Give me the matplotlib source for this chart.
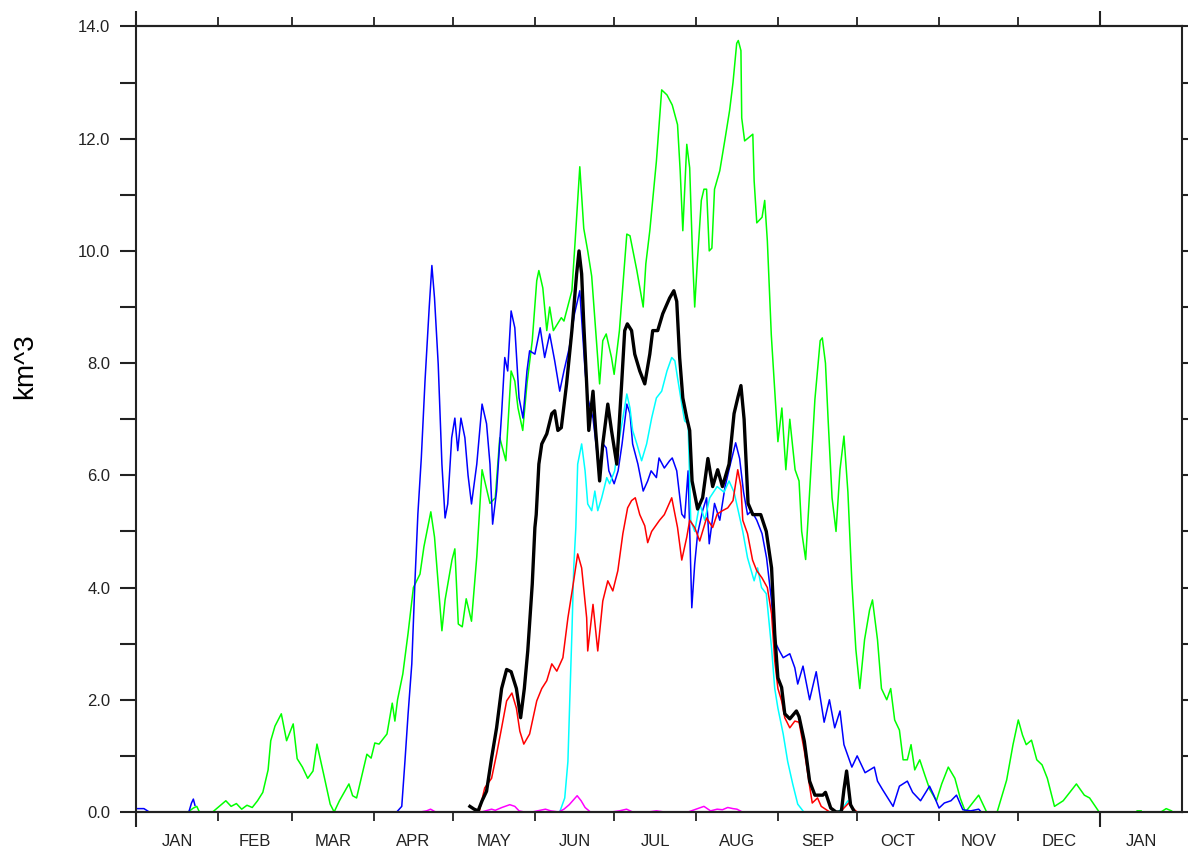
import numpy as np
import matplotlib
matplotlib.use("Agg")
import matplotlib.pyplot as plt

nan = np.nan

# day of year (0 = Jan 1) and volume in km^3
green_day = [19.7, 21.7, 23, 24, nan,
             29, 34, 36, 38, 40, 42, 44, 46, 48, 50, 51, 52.6, 55, 57, 59.5, 61, 63, 65, 67, 68.5,
             71, 73.5, 75, 77, 80.6, 82, 83.5, 85, 87.4, 89, 90.4, 92, 95, 97, 98, 99, 101, 103,
             105, 107.5, 109, 111.6, 113, 115.8, 117, 119.6, 120.7, 122, 123.5, 125, 127, 129, 131,
             134, 136, 137.7, 140, 142, 143.4, 144.6, 146.4, 148, 150, 151.7, 152.5, 154, 155.5,
             156.6, 158, 161, 162, 165, 166, 168, 169.5, 171, 172.5, 174, 175.5, 176.7, 178, 180,
             181, 183, 185.8, 187, 189.6, 192, 193, 194.5, 197, 199, 201, 203, 205, 206, 207,
             208.5, 209.6, 210.7, 211.5, 212.6, 214, 215, 216, 217, 218, 219, 221, 223, 224.7,
             226, 227.4, 228, 229, 229.3, 230.4, 233.5, 234, 235, 237, 238, 239, 240.5, 242, 243,
             244.5, 246, 247.5, 249.5, 251, 252, 253.5, 255, 257, 259, 259.8, 261, 262, 263.5,
             265, 266.5, 268, 269.5, 271, 272.5, 274, 275.8, 277.7, 278.8, 280.7, 282.2, 284.2,
             285.7, 287.2, 289, 290.4, 292, 293.4, 294.8, 296.7, 298.6, 300.5, 303, 305, 307.5,
             310, 312, 314, 319, 322, 326, 329.6, 332, 334, 335.6, 337, 339, 341, 343, 345,
             347.7, 351, 353.5, 356, 359, 361, 364.6, nan, 379, 380.5, nan, 388, 390, 392]
green_val = [0.0, 0.07, 0.1, 0.0, nan,
             0.0, 0.2, 0.1, 0.15, 0.05, 0.12, 0.08, 0.2, 0.35, 0.75, 1.27, 1.53, 1.75, 1.27, 1.57,
             0.95, 0.8, 0.6, 0.73, 1.21, 0.68, 0.14, 0.0, 0.2, 0.5, 0.29, 0.25, 0.55, 1.03, 0.96,
             1.23, 1.21, 1.39, 1.94, 1.62, 2.0, 2.46, 3.19, 4.0, 4.24, 4.73, 5.35, 4.9, 3.23, 3.78,
             4.49, 4.69, 3.35, 3.3, 3.8, 3.4, 4.55, 6.1, 5.5, 5.6, 6.67, 6.26, 7.86, 7.68, 7.2,
             6.8, 7.63, 8.4, 9.47, 9.65, 9.34, 8.58, 9.0, 8.58, 8.81, 8.75, 9.29, 10.0, 11.5,
             10.4, 10.0, 9.55, 8.58, 7.63, 8.4, 8.52, 8.1, 7.8, 8.58, 10.3, 10.27, 9.65, 9.0,
             9.77, 10.36, 11.6, 12.87, 12.78, 12.6, 12.25, 11.43, 10.36, 11.9, 11.48, 9.88, 9.0,
             9.88, 10.9, 11.1, 11.1, 10.0, 10.05, 11.1, 11.43, 12.0, 12.5, 13.0, 13.7, 13.75,
             13.57, 12.37, 11.96, 12.08, 11.25, 10.5, 10.6, 10.9, 10.18, 8.5, 7.35, 6.6, 7.2, 6.1,
             7.0, 6.1, 5.9, 5.0, 4.5, 5.7, 7.35, 8.4, 8.45, 8.0, 7.0, 5.6, 5.0, 6.1, 6.7, 5.7,
             4.1, 2.9, 2.2, 3.07, 3.6, 3.78, 3.07, 2.2, 2.0, 2.2, 1.64, 1.46, 0.93, 0.93, 1.2,
             0.75, 0.93, 0.66, 0.4, 0.2, 0.5, 0.8, 0.6, 0.25, 0.0, 0.3, 0.0, 0.0, 0.57, 1.2, 1.64,
             1.37, 1.2, 1.28, 0.93, 0.84, 0.6, 0.1, 0.2, 0.35, 0.5, 0.3, 0.25, 0.0, nan, 0.02,
             0.02, nan, 0.0, 0.06, 0.02]

blue_day = [0, 3, 5, nan, 20, 21, 21.7, 22.3, nan,
            98.7, 100.6, 101.8, 103, 104.4, 105.6, 106.7, 108, 109.4, 111, 112, 113, 114.4, 115.8,
            117, 118, 119.5, 120.7, 121.8, 123, 124.5, 125.7, 127, 129, 131, 132.7, 134, 135,
            136.5, 138.4, 139.6, 140.7, 142, 143.4, 145, 146.5, 148, 149, 151, 153, 154.7, 156.6,
            158.5, 160.4, 162, 164, 166, 168, 169, 170, 171, 173, 174.3, 175.5, 176.8, 178, 179,
            181, 182.5, 184, 185.8, 187, 188, 190, 192, 193.7, 195, 197, 198, 200, 202, 203,
            204.7, 206.6, 207.7, 209, 210.4, 211.5, 212.6, 214.5, 216, 217, 219, 221, 223, 225,
            227, 228.5, 230, 231.5, 233, 235, 237, 238.7, 240.6, 241.7, 243.6, 245, 247.5, 249.4,
            250.5, 252.5, 255, 257.5, 260.5, 262.5, 264.5, 266.5, 268, 271, 273, 276, 279.5,
            280.7, 282.6, 286.6, 289, 292, 294, 297, 300.4, 302, 304, 306, 308.5, 310.6, 313,
            316, 319, 320]
blue_val = [0.06, 0.06, 0.0, nan, 0.0, 0.16, 0.23, 0.12, nan,
            0.0, 0.1, 0.9, 1.75, 2.64, 4.12, 5.31, 6.31, 7.68, 9.0, 9.74, 9.16, 7.98, 6.2, 5.24,
            5.49, 6.67, 7.02, 6.44, 7.02, 6.67, 6.0, 5.49, 6.2, 7.27, 6.92, 6.2, 5.13, 5.72, 7.1,
            8.1, 7.86, 8.93, 8.63, 7.38, 7.02, 7.86, 8.22, 8.16, 8.63, 8.1, 8.52, 8.04, 7.5, 7.86,
            8.27, 8.88, 9.29, 8.58, 7.86, 7.38, 7.02, 6.49, 5.96, 6.56, 6.49, 6.08, 5.85, 6.08,
            6.56, 7.27, 7.1, 6.56, 6.2, 5.72, 5.9, 6.08, 5.96, 6.31, 6.13, 6.26, 6.31, 6.08, 5.31,
            5.24, 6.08, 3.64, 4.42, 4.96, 5.37, 5.6, 4.78, 5.5, 5.2, 5.8, 6.2, 6.58, 6.3, 5.7,
            5.3, 5.37, 5.2, 4.96, 4.53, 3.76, 3.05, 2.87, 2.75, 2.82, 2.57, 2.28, 2.6, 2.0, 2.5,
            1.6, 2.0, 1.5, 1.8, 1.2, 0.8, 1.0, 0.7, 0.8, 0.55, 0.4, 0.1, 0.46, 0.55, 0.35, 0.2,
            0.46, 0.3, 0.07, 0.16, 0.2, 0.3, 0.04, 0.02, 0.05, 0.0]

black_day = [126.4, 128, 129.5, 131, 132.7, 134.6, 136.5, 138.4, 140.3, 142, 144, 145.6, 147,
             148.3, 150, 151, 151.5, 152.5, 153.6, 155.5, 157.4, 158.5, 159.7, 161, 163, 165,
             166.8, 167.7, 168.7, 169.5, 170.6, 171.4, 173, 174, 175.5, 176.7, 178.6, 180, 182,
             183.9, 185, 186, 187.6, 188.8, 190.7, 192.6, 194.5, 195.6, 197.5, 199.4, 202, 203.6,
             204.7, 205.8, 207, 208.5, 209.6, 210.5, 212.6, 214.5, 216.5, 218.3, 220.2, 222,
             224.5, 226.4, 227.9, 229, 230.2, 231.7, 233.5, 236.5, 238.6, 240.6, 241.8, 243,
             244.4, 245.6, 247.5, 250, 251, 253, 255, 257, 260, 261, 263, 265, 267, 268, 269,
             270.5, 272]
black_val = [0.1, 0.05, 0.02, 0.2, 0.37, 0.96, 1.5, 2.2, 2.54, 2.5, 2.2, 1.68, 2.2, 2.87, 4.06,
             5.07, 5.3, 6.2, 6.56, 6.74, 7.1, 7.15, 6.8, 6.85, 7.63, 8.58, 9.59, 10.0, 9.59, 8.7,
             7.63, 6.8, 7.5, 6.8, 5.9, 6.56, 7.27, 6.8, 6.2, 7.68, 8.58, 8.7, 8.58, 8.16, 7.86,
             7.63, 8.16, 8.58, 8.58, 8.88, 9.16, 9.29, 9.1, 8.1, 7.38, 7.02, 6.8, 5.9, 5.4, 5.6,
             6.3, 5.8, 6.1, 5.8, 6.2, 7.1, 7.4, 7.6, 7.0, 5.5, 5.3, 5.3, 5.0, 4.35, 3.17, 2.39,
             2.22, 1.75, 1.66, 1.8, 1.7, 1.26, 0.55, 0.3, 0.3, 0.35, 0.07, 0.0, 0.0, 0.4, 0.73,
             0.13, 0.0]

red_day = [51, 55, nan,
           128.6, 130, 132, 134.6, 136.5, 138.4, 140.3, 142.3, 144, 145.3, 146.8, 149, 151.7,
           153.6, 155.5, 157.4, 159.3, 161.6, 163.5, 165.3, 167.2, 168.7, 170.6, 171, 173, 174.8,
           176.7, 178.6, 180.5, 182.4, 184.3, 186.1, 187.6, 189, 190.7, 192.6, 193.7, 195.2,
           198.2, 200, 202.8, 205, 206.6, 208.5, 209.6, 211.5, 213.4, 216, 218.3, 220, 222, 224,
           226, 227.8, 229, 229.7, 231.5, 233.4, 235, 237, 239, 240.6, 241.8, 243, 244.4, 245.6,
           247.5, 249.4, 251, 253, 255, 256, 258, 259.4, 262.6, nan, 266.6, 269.8, 271, 273]
red_val = [0.0, 0.0, nan,
           0.0, 0.02, 0.43, 0.6, 1.03, 1.5, 1.98, 2.12, 1.85, 1.44, 1.21, 1.39, 1.98, 2.2, 2.34,
           2.64, 2.51, 2.75, 3.46, 4.0, 4.6, 4.35, 3.46, 2.87, 3.7, 2.87, 3.76, 4.12, 3.94, 4.3,
           4.96, 5.42, 5.55, 5.6, 5.3, 5.1, 4.8, 5.0, 5.2, 5.3, 5.6, 5.07, 4.49, 4.9, 5.2, 5.07,
           4.83, 5.24, 5.07, 5.31, 5.37, 5.42, 5.55, 6.1, 5.8, 5.2, 4.96, 4.49, 4.3, 4.17, 4.0,
           3.53, 2.69, 2.2, 1.98, 1.68, 1.5, 1.62, 1.6, 1.09, 0.46, 0.16, 0.25, 0.1, 0.0, nan,
           0.0, 0.16, 0.08, 0.0]

cyan_day = [160.4, 162.3, 163.5, 164.2, 165, 165.7, 166.5, 167.2, 168.7, 170, 171, 172.5,
            173.7, 174.8, 176.3, 178.2, 179.3, 181.2, 182.4, 184.3, 185.8, 187, 188, 189.6,
            191.4, 193.3, 195.2, 197, 199, 201, 202.8, 204, 205, 206.6, 207.7, 209, 210, 211.5,
            213.4, 215.3, 217.2, 220, 222.6, 224.5, 226.4, 228.3, 229.7, 231.5, 234, 235.3,
            236.8, 238.6, 240.6, 241.8, 243, 245, 246.7, 248.6, 250.5, 252.8, nan, 265.8, 268,
            269.5, 270.5, 272]
cyan_val = [0.0, 0.25, 0.9, 1.98, 3.17, 4.35, 5.07, 6.2, 6.56, 6.08, 5.49, 5.37, 5.72, 5.37,
            5.6, 5.96, 5.85, 6.08, 6.49, 7.02, 7.45, 7.2, 6.8, 6.56, 6.26, 6.56, 7.02, 7.38, 7.5,
            7.86, 8.1, 8.04, 7.74, 7.27, 6.97, 6.92, 5.2, 5.0, 5.5, 5.2, 5.6, 5.8, 5.7, 5.9, 5.7,
            5.3, 5.0, 4.53, 4.12, 4.35, 4.0, 3.89, 2.92, 2.2, 1.85, 1.39, 0.9, 0.5, 0.14, 0.0,
            nan, 0.0, 0.1, 0.2, 0.12, 0.0]

magenta_day = [107.7, 110, 111.5, 113.4, nan,
               130.8, 134.6, 136, 138.5, 141.5, 143.4, 145, 147, 150, 153, 155, 157, 160, 162,
               164, 167, 168.5, 170, 172, 175, 180, 183, 185.7, 188, 190, 194, 197, 200, 205,
               209, 212, 215, 217.5, 220, 222, 224, 226, 227.5, 229.5, nan, 238, 240]
magenta_val = [0.0, 0.02, 0.05, 0.0, nan,
               0.0, 0.05, 0.03, 0.08, 0.13, 0.1, 0.02, 0.0, 0.0, 0.03, 0.05, 0.02, 0.0, 0.05,
               0.13, 0.29, 0.2, 0.08, 0.0, 0.0, 0.0, 0.02, 0.05, 0.0, 0.0, 0.0, 0.02, 0.0, 0.0,
               0.0, 0.05, 0.1, 0.02, 0.05, 0.04, 0.08, 0.06, 0.05, 0.0, nan, 0.0, 0.0]

month_names = ['JAN', 'FEB', 'MAR', 'APR', 'MAY', 'JUN', 'JUL', 'AUG', 'SEP', 'OCT', 'NOV',
               'DEC', 'JAN']
month_starts = [0, 31, 59, 90, 120, 151, 181, 212, 243, 273, 304, 334, 365, 396]

plt.rcParams['font.family'] = ['Liberation Sans', 'DejaVu Sans']

fig = plt.figure(figsize=(11.88, 8.49), dpi=100)
ax = fig.add_axes([0.1145, 0.0436, 0.8805, 0.9252])

ax.plot(green_day, green_val, color='#00ff00', lw=1.1)
ax.plot(blue_day, blue_val, color='#0000ff', lw=1.1)
ax.plot(cyan_day, cyan_val, color='#00ffff', lw=1.1)
ax.plot(red_day, red_val, color='#ff0000', lw=1.1)
ax.plot(magenta_day, magenta_val, color='#ff00ff', lw=1.1)
ax.plot(black_day, black_val, color='black', lw=2.4)

ax.set_xlim(0, 396)
ax.set_ylim(0, 14)

# month names in the middle of each month, short ticks at month boundaries
mids = [(a + b) / 2 for a, b in zip(month_starts[:-1], month_starts[1:])]
ax.set_xticks(mids)
ax.set_xticklabels(month_names)
ax.set_xticks(month_starts[1:12], minor=True)
ax.tick_params(axis='x', which='major', length=0, pad=16, labelsize=12, colors='#222222')
ax.tick_params(axis='x', which='minor', length=6.5, width=1.3, top=True, bottom=True,
               direction='out', color='#222222')

# longer ticks at the year boundaries
for side in ['bottom', 'top']:
    sec = ax.secondary_xaxis(side)
    sec.set_xticks([0, 365])
    sec.set_xticklabels([])
    sec.tick_params(length=11, width=1.5, direction='out', color='#222222')
    sec.spines[side].set_linewidth(1.5)

ax.set_yticks(np.arange(0, 15, 2))
ax.set_yticklabels(['%.1f' % v for v in np.arange(0, 15, 2)])
ax.set_yticks(np.arange(1, 14, 2), minor=True)
ax.tick_params(axis='y', which='both', length=11.5, width=1.5, direction='out',
               left=True, right=True, color='#222222')
ax.tick_params(axis='y', which='major', labelsize=12, pad=7, labelcolor='#222222')

for s in ax.spines.values():
    s.set_linewidth(1.5)
    s.set_color('#222222')

ax.set_ylabel('km^3', fontsize=20)
ax.yaxis.set_label_coords(-0.094, 0.568)

fig.savefig('out.png', dpi=100)
